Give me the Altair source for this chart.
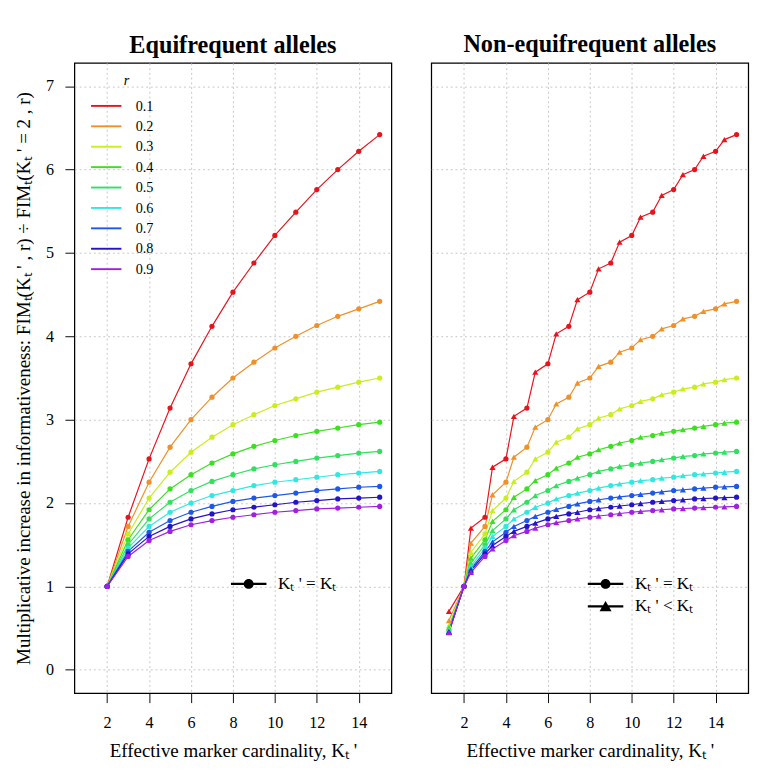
import altair as alt
import pandas as pd

FONT = "Liberation Serif"

r_levels = ["0.1", "0.2", "0.3", "0.4", "0.5", "0.6", "0.7", "0.8", "0.9"]
r_colors = ["#E8141C", "#F0902A", "#C8EE1E", "#3CE020", "#32E060",
            "#30E8E0", "#1E58E8", "#2414C8", "#A020E0"]

# Kt' = Kt (integer cardinalities, equifrequent alleles)
kt = list(range(2, 16))
eq_r01 = [1.00, 1.83, 2.53, 3.14, 3.67, 4.12, 4.53, 4.88, 5.21, 5.49, 5.76, 6.00, 6.22, 6.42]
eq_r02 = [1.00, 1.72, 2.25, 2.67, 3.00, 3.27, 3.50, 3.69, 3.86, 4.00, 4.13, 4.24, 4.33, 4.42]
eq_r03 = [1.00, 1.63, 2.06, 2.37, 2.61, 2.79, 2.94, 3.06, 3.17, 3.25, 3.33, 3.39, 3.45, 3.50]
eq_r04 = [1.00, 1.56, 1.92, 2.17, 2.34, 2.48, 2.59, 2.68, 2.75, 2.81, 2.86, 2.90, 2.94, 2.97]
eq_r05 = [1.00, 1.50, 1.81, 2.01, 2.15, 2.26, 2.34, 2.41, 2.46, 2.50, 2.54, 2.57, 2.60, 2.62]
eq_r06 = [1.00, 1.46, 1.72, 1.89, 2.00, 2.09, 2.15, 2.21, 2.25, 2.28, 2.31, 2.34, 2.36, 2.38]
eq_r07 = [1.00, 1.42, 1.65, 1.79, 1.89, 1.96, 2.02, 2.06, 2.09, 2.12, 2.15, 2.17, 2.19, 2.20]
eq_r08 = [1.00, 1.39, 1.60, 1.72, 1.81, 1.87, 1.92, 1.95, 1.98, 2.01, 2.03, 2.05, 2.06, 2.07]
eq_r09 = [1.00, 1.36, 1.55, 1.66, 1.74, 1.79, 1.83, 1.86, 1.89, 1.91, 1.93, 1.94, 1.95, 1.96]

# Kt' < Kt (non-equifrequent alleles, non-integer effective cardinalities)
tri_x = [1.28, 2.33, 3.36, 4.38, 5.40, 6.40, 7.41, 8.42, 9.42, 10.42, 11.43, 12.44, 13.42, 14.42]
tri_r01 = [0.70, 1.70, 2.43, 3.04, 3.57, 4.03, 4.44, 4.81, 5.13, 5.43, 5.69, 5.94, 6.16, 6.36]
tri_r02 = [0.59, 1.52, 2.10, 2.55, 2.91, 3.19, 3.44, 3.64, 3.81, 3.96, 4.09, 4.21, 4.30, 4.39]
tri_r03 = [0.53, 1.41, 1.91, 2.26, 2.53, 2.73, 2.89, 3.02, 3.13, 3.22, 3.30, 3.37, 3.43, 3.48]
tri_r04 = [0.505, 1.34, 1.78, 2.07, 2.27, 2.42, 2.55, 2.64, 2.72, 2.79, 2.84, 2.88, 2.92, 2.96]
tri_r05 = [0.49, 1.28, 1.67, 1.92, 2.09, 2.21, 2.30, 2.38, 2.44, 2.48, 2.52, 2.56, 2.59, 2.61]
tri_r06 = [0.475, 1.24, 1.60, 1.81, 1.95, 2.05, 2.12, 2.18, 2.23, 2.27, 2.30, 2.33, 2.35, 2.37]
tri_r07 = [0.46, 1.21, 1.535, 1.72, 1.84, 1.925, 1.99, 2.04, 2.075, 2.105, 2.135, 2.16, 2.18, 2.195]
tri_r08 = [0.45, 1.19, 1.49, 1.66, 1.76, 1.84, 1.89, 1.935, 1.965, 1.995, 2.02, 2.04, 2.055, 2.065]
tri_r09 = [0.445, 1.17, 1.45, 1.61, 1.70, 1.765, 1.81, 1.845, 1.875, 1.90, 1.92, 1.935, 1.945, 1.955]

x_ticks = [2, 4, 6, 8, 10, 12, 14]
y_ticks = [0, 1, 2, 3, 4, 5, 6, 7]
type_labels = ["Kₜ ' = Kₜ", "Kₜ ' < Kₜ"]

eq_all = [eq_r01, eq_r02, eq_r03, eq_r04, eq_r05, eq_r06, eq_r07, eq_r08, eq_r09]
tri_all = [tri_r01, tri_r02, tri_r03, tri_r04, tri_r05, tri_r06, tri_r07, tri_r08, tri_r09]

rows = []
for r, vals in zip(r_levels, eq_all):
    for k, v in zip(kt, vals):
        rows.append({"r": r, "k": k, "v": v, "type": type_labels[0]})
eq_df = pd.DataFrame(rows)
rows = []
for r, vals in zip(r_levels, tri_all):
    for k, v in zip(tri_x, vals):
        rows.append({"r": r, "k": k, "v": v, "type": type_labels[1]})
tri_df = pd.DataFrame(rows)
both_df = pd.concat([eq_df, tri_df], ignore_index=True)

W, H = 334, 664
XDOM = [0.44, 15.56]
YDOM = [-0.28, 7.28]
GRID = dict(grid=True, gridDash=[2, 3], gridColor="#c4c4c4", gridWidth=1)

xaxis = alt.Axis(values=x_ticks, format="d", title="Effective marker cardinality, Kₜ '", domain=False,
                 tickSize=10, tickColor="black", tickWidth=1, labelFont=FONT, labelFontSize=17,
                 labelColor="black", labelPadding=13, titleFont=FONT, titleFontSize=20,
                 titleFontWeight="normal", titleColor="black", titlePadding=12, **GRID)
yaxis_left = alt.Axis(values=y_ticks, format="d",
                      title="Multiplicative increase in informativeness: FIMₜ(Kₜ ' , r) ÷ FIMₜ(Kₜ ' = 2 , r)",
                      domain=False, tickSize=10, tickColor="black", tickWidth=1, labelFont=FONT,
                      labelFontSize=17, labelColor="black", labelPadding=12, titleFont=FONT,
                      titleFontSize=20, titleFontWeight="normal", titleColor="black",
                      titlePadding=13, **GRID)
yaxis_right = alt.Axis(values=y_ticks, title=None, domain=False, ticks=False, labels=False, **GRID)

xs = alt.Scale(domain=XDOM, nice=False, zero=False)
ys = alt.Scale(domain=YDOM, nice=False, zero=False)
cs = alt.Scale(domain=r_levels, range=r_colors)

color_legend = alt.Legend(orient="none", legendX=26, legendY=11, title="r" + "\u00a0" * 3,
                          titleAnchor="middle",
                          titleFont=FONT, titleFontStyle="italic", titleFontWeight="normal",
                          titleFontSize=15, titleColor="black", titlePadding=11.8,
                          labelFont=FONT, labelFontSize=15, labelColor="black", labelOffset=23.5,
                          symbolType="M-3.2,0L3.2,0", symbolSize=100, symbolStrokeWidth=2,
                          rowPadding=5.5, padding=0)

# legend glyphs: marker with a horizontal line through it (line drawn as thin filled bars)
CIRC = ("M-3.4,-0.2L-0.8,-0.2L-0.8,0.2L-3.4,0.2Z"
        "M0.8,-0.2L3.4,-0.2L3.4,0.2L0.8,0.2Z"
        "M0.95,0A0.95,0.95,0,1,1,-0.95,0A0.95,0.95,0,1,1,0.95,0Z")
TRI = ("M-3.4,-0.2L-0.5,-0.2L-0.5,0.2L-3.4,0.2Z"
       "M0.5,-0.2L3.4,-0.2L3.4,0.2L0.5,0.2Z"
       "M0,-1.05L1.15,0.95L-1.15,0.95Z")


def shape_legend_layer(types):
    df = pd.DataFrame({"type": types})
    return alt.Chart(df).mark_point(filled=True, color="black", opacity=0, size=121).encode(
        x=alt.value(0), y=alt.value(0),
        shape=alt.Shape("type:N", scale=alt.Scale(domain=types, range=[CIRC, TRI][:len(types)]),
                        legend=alt.Legend(orient="none", legendX=174.6, legendY=539.9, title=None,
                                          labelFont=FONT, labelFontSize=18, labelColor="black",
                                          labelOffset=22, symbolSize=121, symbolOpacity=1,
                                          symbolFillColor="black", symbolStrokeWidth=0,
                                          rowPadding=5.7, padding=0))
    )


def panel(df, title, yaxis, with_color_legend, with_triangles):
    base = alt.Chart(df)
    lines = base.mark_line(strokeWidth=1.25).encode(
        x=alt.X("k:Q", scale=xs, axis=xaxis),
        y=alt.Y("v:Q", scale=ys, axis=yaxis),
        color=alt.Color("r:N", scale=cs, legend=color_legend if with_color_legend else None),
        detail="r:N",
    )
    circles = alt.Chart(df).transform_filter(alt.datum.type == type_labels[0]).mark_point(
        shape="circle", filled=True, size=30, opacity=1).encode(
        x="k:Q", y="v:Q", color=alt.Color("r:N", scale=cs, legend=None))
    layers = [lines, circles]
    if with_triangles:
        tris = alt.Chart(df).transform_filter(alt.datum.type == type_labels[1]).mark_point(
            shape="triangle-up", filled=True, size=42, opacity=1).encode(
            x="k:Q", y="v:Q", color=alt.Color("r:N", scale=cs, legend=None))
        layers.append(tris)
    layers.append(shape_legend_layer(type_labels if with_triangles else type_labels[:1]))
    return alt.layer(*layers).properties(
        width=W, height=H,
        title=alt.TitleParams(title, font=FONT, fontSize=25.5, fontWeight="bold", color="black",
                              anchor="middle", frame="group", offset=0),
    )


left = panel(eq_df, "Equifrequent alleles", yaxis_left, True, False)
right = panel(both_df, "Non-equifrequent alleles", yaxis_right, False, True)

chart = alt.hconcat(left, right, spacing=21).resolve_scale(
    color="independent", shape="independent").resolve_legend(
    color="independent", shape="independent").configure_view(
    stroke="black", strokeWidth=1.3)

chart.save("out.html", embed_options={"renderer": "svg", "actions": False})
